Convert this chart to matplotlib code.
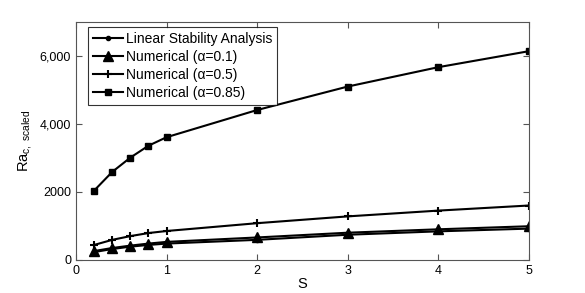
import matplotlib
matplotlib.use("Agg")
import matplotlib.pyplot as plt
from matplotlib.ticker import FixedLocator, FixedFormatter

plt.rcParams['font.family'] = ['Liberation Sans', 'DejaVu Sans']
plt.rcParams['mathtext.fontset'] = 'custom'
plt.rcParams['mathtext.rm'] = 'Liberation Sans'
plt.rcParams['mathtext.it'] = 'Liberation Sans:italic'

S = [0.2, 0.4, 0.6, 0.8, 1, 2, 3, 4, 5]
ra_lsa = [230, 320, 390, 440, 480, 590, 740, 840, 920]
ra_a01 = [260, 350, 420, 480, 530, 660, 800, 900, 990]
ra_a05 = [440, 590, 700, 790, 850, 1080, 1280, 1450, 1600]
ra_a085 = [2040, 2590, 3010, 3360, 3610, 4410, 5100, 5670, 6140]

y_ticks = [0, 2000, 4000, 6000]
y_tick_labels = ["0", "2000", "4,000", "6,000"]

fig = plt.figure(figsize=(5.85, 2.93), dpi=100)
ax = fig.add_axes([0.130, 0.113, 0.774, 0.812])

ax.plot(S, ra_lsa, color='black', lw=1.5, marker='o', markersize=3,
        label='Linear Stability Analysis')
ax.plot(S, ra_a01, color='black', lw=1.5, marker='^', markersize=7,
        label='Numerical (α=0.1)')
ax.plot(S, ra_a05, color='black', lw=1.5, marker='+', markersize=6, markeredgewidth=1.5,
        label='Numerical (α=0.5)')
ax.plot(S, ra_a085, color='black', lw=1.5, marker='s', markersize=4,
        label='Numerical (α=0.85)')

ax.set_xlim(0, 5)
ax.set_ylim(0, 7000)
ax.yaxis.set_major_locator(FixedLocator(y_ticks))
ax.yaxis.set_major_formatter(FixedFormatter(y_tick_labels))
ax.set_xticks([0, 1, 2, 3, 4, 5])

ax.tick_params(direction='in', top=True, right=True, length=4, width=0.8,
               labelsize=9, color='#555555')
for sp in ax.spines.values():
    sp.set_color('#555555')
    sp.set_linewidth(0.8)

ax.set_xlabel('S', fontsize=10.5, labelpad=0)
ax.set_ylabel(r'Ra$_{\mathrm{c,\ scaled}}$', fontsize=10.5, labelpad=4)

leg = ax.legend(loc='upper left', bbox_to_anchor=(0.026, 0.979), borderaxespad=0,
                fontsize=10, frameon=True, fancybox=False,
                edgecolor='black', handlelength=2.2, handletextpad=0.2,
                labelspacing=0.3, borderpad=0.35)
leg.get_frame().set_linewidth(0.8)

fig.savefig('out.png', dpi=100)
